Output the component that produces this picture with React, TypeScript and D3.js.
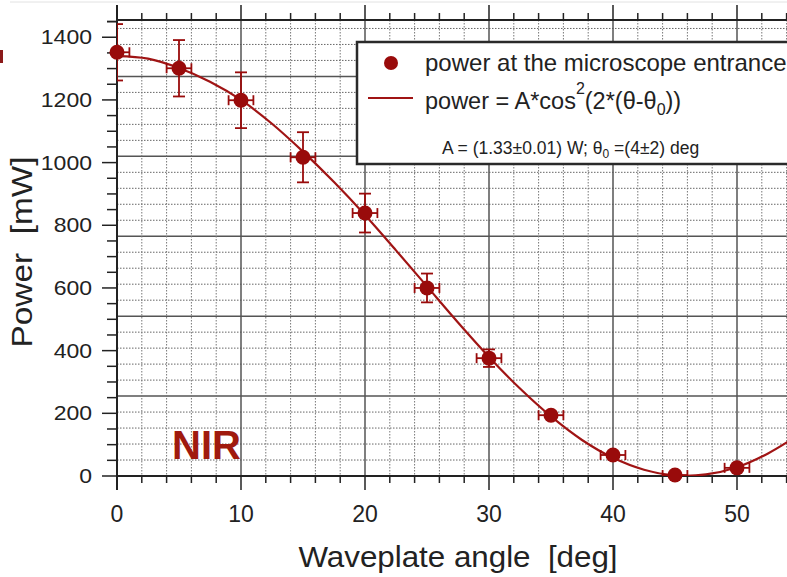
import React from "react";
import * as d3 from "d3";

// ---- data ----
const angles = [0, 5, 10, 15, 20, 25, 30, 35, 40, 45, 50];
const powers = [1352, 1301, 1199, 1017, 839, 600, 376, 194, 67, 3, 26];
const powerErr = [90, 90, 89, 80, 62, 46, 28, 10, 8, 3, 5];
const angleErr = [1, 1, 1, 1, 1, 1, 1, 1, 1, 1, 1];

// fitted curve
const fitAngles = [0, 2.5, 5, 7.5, 10, 12.5, 15, 17.5, 20, 22.5, 25, 27.5, 30, 32.5, 35, 37.5, 40, 42.5, 45, 47.5, 50, 52.5, 55];
const fitPowers = [1340, 1332, 1302, 1258, 1200, 1124, 1035, 938, 833, 720, 605, 490, 380, 279, 190, 115, 58, 20, 2, 5, 28, 72, 132];

const xTickLabels = [0, 10, 20, 30, 40, 50];
const yTickLabels = [0, 200, 400, 600, 800, 1000, 1200, 1400];

const xDomain = [0, 55];
const yDomain = [0, 1455];
const xMinorStep = 2;
const yMinorTickStep = 50;
const yGridStep = 51;

const W = 787;
const H = 577;
const RED = "#990b0b";
const FONT = "'Liberation Sans', Arial, Helvetica, sans-serif";

export default function App() {
  const x = d3.scaleLinear().domain(xDomain).range([117, 799]);
  const y = d3.scaleLinear().domain(yDomain).range([476, 20]);
  const left = x(xDomain[0]);
  const right = x(xDomain[1]);
  const top = y(yDomain[1]);
  const bottom = y(yDomain[0]);

  const xTicksAll = d3.range(xDomain[0], xDomain[1] + 0.001, xMinorStep);
  const yTicksAll = d3.range(0, yDomain[1], yMinorTickStep);
  const yGrid = d3.range(yGridStep, yDomain[1], yGridStep);

  const line = d3
    .line<number>()
    .x((_, i) => x(fitAngles[i]))
    .y((d) => y(d))
    .curve(d3.curveCatmullRom.alpha(0.5));

  const legX = 357;
  const legY = 42;

  return (
    <svg
      width={W}
      height={H}
      style={{ position: "absolute", left: 0, top: 0, background: "#fff" }}
      fontFamily={FONT}
    >
      <defs>
        <clipPath id="plotclip">
          <rect x={left} y={top} width={right - left} height={bottom - top} />
        </clipPath>
      </defs>
      <rect x={0} y={0} width={W} height={H} fill="#fff" />
      <line x1={10} x2={W} y1={2} y2={2} stroke="#e2e2e2" strokeWidth={1} />
      <rect x={0} y={50} width={3} height={13} fill="#8b1a1a" />

      {/* grid */}
      <g>
        {yGrid.map((v, i) => {
          const major = (i + 1) % 5 === 0;
          return (
            <line
              key={"hg" + i}
              x1={left}
              x2={right}
              y1={y(v)}
              y2={y(v)}
              stroke={major ? "#555" : "#666"}
              strokeWidth={major ? 1.5 : 1}
              strokeDasharray={major ? undefined : "1.5,1.5"}
            />
          );
        })}
        {xTicksAll
          .filter((v) => v > 0)
          .map((v, i) => {
            const major = v % 10 === 0;
            return (
              <line
                key={"vg" + i}
                x1={x(v)}
                x2={x(v)}
                y1={top}
                y2={bottom}
                stroke={major ? "#555" : "#777"}
                strokeWidth={major ? 1.5 : 1}
                strokeDasharray={major ? undefined : "1.5,1.5"}
              />
            );
          })}
      </g>

      {/* frame / axes */}
      <line x1={left} x2={W} y1={top} y2={top} stroke="#222" strokeWidth={2} />
      <line x1={left} x2={W} y1={bottom} y2={bottom} stroke="#222" strokeWidth={2} />
      <line x1={left} x2={left} y1={top - 15} y2={bottom + 14} stroke="#222" strokeWidth={2} />

      {/* x ticks bottom and top */}
      {xTicksAll.map((v, i) => {
        const major = v % 10 === 0;
        return (
          <g key={"xt" + i}>
            <line x1={x(v)} x2={x(v)} y1={bottom} y2={bottom + (major ? 14 : 7)} stroke="#222" strokeWidth={1.5} />
            <line x1={x(v)} x2={x(v)} y1={top} y2={top - (major ? 15 : 7)} stroke="#222" strokeWidth={1.5} />
          </g>
        );
      })}
      {/* y ticks */}
      {yTicksAll.map((v, i) => {
        const major = v % 200 === 0;
        return (
          <line key={"yt" + i} x1={left - (major ? 15 : 10)} x2={left} y1={y(v)} y2={y(v)} stroke="#222" strokeWidth={1.5} />
        );
      })}
      <line x1={left - 10} x2={left} y1={y(1450)} y2={y(1450)} stroke="#222" strokeWidth={1.5} />

      {/* tick labels */}
      {xTickLabels.map((v) => (
        <text key={"xl" + v} x={x(v)} y={522} fontSize={23} textAnchor="middle" fill="#222">
          {v}
        </text>
      ))}
      {yTickLabels.map((v) => (
        <text
          key={"yl" + v}
          transform={`translate(92, ${y(v)}) scale(1.18,1)`}
          fontSize={19.5}
          textAnchor="end"
          dy="0.36em"
          fill="#222"
        >
          {v}
        </text>
      ))}

      {/* axis titles */}
      <text
        transform={`translate(458, 567) scale(1.08,1)`}
        fontSize={29}
        textAnchor="middle"
        fill="#222"
      >
        {"Waveplate angle\u00a0\u00a0[deg]"}
      </text>
      <text
        transform={`translate(32, 252) rotate(-90) scale(1.15,1)`}
        fontSize={29}
        textAnchor="middle"
        fill="#222"
      >
        {"Power\u00a0\u00a0[mW]"}
      </text>

      {/* NIR label */}
      <text x={172} y={459} fontSize={40} fontWeight="bold" fill="#a01a0e">
        NIR
      </text>

      {/* fit curve */}
      <g clipPath="url(#plotclip)">
        <path d={line(fitPowers) || ""} fill="none" stroke="#a01414" strokeWidth={2.2} />
        {angles.map((a, i) => {
          const cx = x(a);
          const cy = y(powers[i]);
          const y1 = y(powers[i] + powerErr[i]);
          const y2 = y(powers[i] - powerErr[i]);
          const x1 = x(a - angleErr[i]);
          const x2 = x(a + angleErr[i]);
          return (
            <g key={"eb" + i} stroke={RED} strokeWidth={1.8}>
              <line x1={cx} x2={cx} y1={y1} y2={y2} />
              <line x1={cx - 6} x2={cx + 6} y1={y1} y2={y1} />
              <line x1={cx - 6} x2={cx + 6} y1={y2} y2={y2} />
              <line x1={x1} x2={x2} y1={cy} y2={cy} />
              <line x1={x1} x2={x1} y1={cy - 5} y2={cy + 5} />
              <line x1={x2} x2={x2} y1={cy - 5} y2={cy + 5} />
            </g>
          );
        })}
      </g>
      {angles.map((a, i) => (
        <circle key={"pt" + i} cx={x(a)} cy={y(powers[i])} r={7.5} fill={RED} />
      ))}

      {/* legend */}
      <rect x={legX} y={legY} width={460} height={122} fill="#fff" stroke="#2a2a2a" strokeWidth={2.5} />
      <circle cx={legX + 34} cy={legY + 21} r={7} fill={RED} />
      <text x={legX + 68} y={legY + 29} fontSize={24} fill="#222">
        power at the microscope entrance
      </text>
      <line x1={legX + 11} x2={legX + 56} y1={legY + 56} y2={legY + 56} stroke="#a01414" strokeWidth={1.8} />
      <text x={legX + 68} y={legY + 67} fontSize={23.5} fill="#222">
        power = A*cos
        <tspan dy={-15} fontSize={16}>2</tspan>
        <tspan dy={15}>(2*(θ-θ</tspan>
        <tspan dy={6} fontSize={16}>0</tspan>
        <tspan dy={-6}>))</tspan>
      </text>
      <text x={legX + 85} y={legY + 112} fontSize={17.5} fill="#222">
        A = (1.33±0.01) W; θ
        <tspan dy={4} fontSize={12}>0</tspan>
        <tspan dy={-4}> =(4±2) deg</tspan>
      </text>
    </svg>
  );
}
